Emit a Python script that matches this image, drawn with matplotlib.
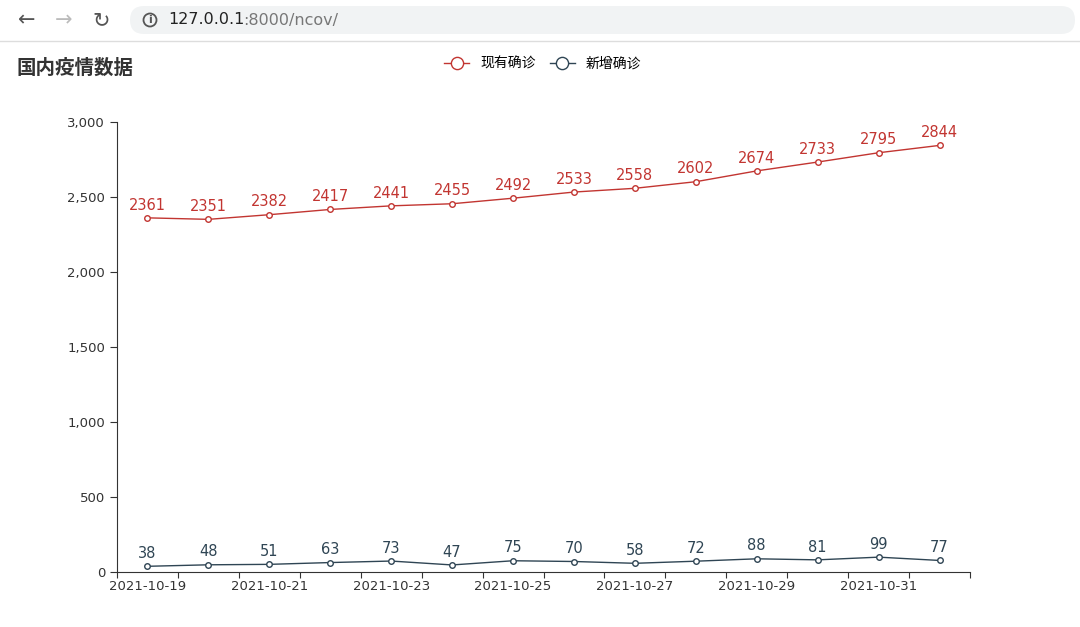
import matplotlib
matplotlib.use("Agg")
import matplotlib.pyplot as plt
from matplotlib.patches import FancyBboxPatch, Circle

dates = ["2021-10-19","2021-10-20","2021-10-21","2021-10-22","2021-10-23","2021-10-24","2021-10-25",
         "2021-10-26","2021-10-27","2021-10-28","2021-10-29","2021-10-30","2021-10-31","2021-11-01"]
existing = [2361,2351,2382,2417,2441,2455,2492,2533,2558,2602,2674,2733,2795,2844]
new = [38,48,51,63,73,47,75,70,58,72,88,81,99,77]
yticks = [0,500,1000,1500,2000,2500,3000]

plt.rcParams["font.family"] = "sans-serif"
plt.rcParams["font.sans-serif"] = ["Noto Sans CJK SC", "Noto Sans CJK JP", "Noto Sans CJK TC", "DejaVu Sans"]
W, H = 1080, 627
fig = plt.figure(figsize=(W/100, H/100), dpi=100)

# browser bar
bar = fig.add_axes([0, 1-40/H, 1, 40/H]); bar.axis("off"); bar.set_xlim(0, W); bar.set_ylim(0, 40)
bar.add_patch(FancyBboxPatch((130, 6), 945, 28, boxstyle="round,pad=0,rounding_size=14", fc="#f1f3f4", ec="none"))
bar.text(18, 20, "←", fontsize=15, va="center", color="#555", family="DejaVu Sans")
bar.text(55, 20, "→", fontsize=15, va="center", color="#bbb", family="DejaVu Sans")
bar.text(92, 20, "↻", fontsize=15, va="center", color="#555", family="DejaVu Sans")
bar.add_patch(Circle((150, 20), 6.5, fc="none", ec="#555", lw=1.3))
bar.text(150, 20, "i", fontsize=8, ha="center", va="center", color="#555", family="DejaVu Sans", fontweight="bold")
bar.text(168, 20, "127.0.0.1", fontsize=11.5, va="center", color="#222", family="DejaVu Sans")
bar.text(243, 20, ":8000/ncov/", fontsize=11.5, va="center", color="#777", family="DejaVu Sans")
fig.add_artist(plt.Line2D([0, 1], [1-41/H]*2, color="#ddd", lw=1))

x0, x1, ytop, ybot = 117, 970, 122, 572
ax = fig.add_axes([x0/W, 1-ybot/H, (x1-x0)/W, (ybot-ytop)/H])
n = len(dates)
xs = [i + 0.5 for i in range(n)]
ax.set_xlim(0, n); ax.set_ylim(0, 3000)
red, navy = "#c23531", "#2f4554"
ax.plot(xs, existing, color=red, lw=1, marker="o", ms=4, mfc="white", mec=red, label="现有确诊")
ax.plot(xs, new, color=navy, lw=1, marker="o", ms=4, mfc="white", mec=navy, label="新增确诊")
for x, v in zip(xs, existing):
    ax.annotate(str(v), (x, v), xytext=(0, 6), textcoords="offset points", ha="center", fontsize=10.5, color=red, family="DejaVu Sans")
for x, v in zip(xs, new):
    ax.annotate(str(v), (x, v), xytext=(0, 6), textcoords="offset points", ha="center", fontsize=10.5, color=navy, family="DejaVu Sans")
ax.set_yticks(yticks)
ax.set_yticklabels([f"{v:,}" for v in yticks], fontsize=9.5, color="#333", family="DejaVu Sans")
ax.set_xticks(list(range(n+1)))
ax.set_xticklabels([""]*(n+1))
for i in range(0, n, 2):
    ax.annotate(dates[i], (xs[i], 0), xytext=(0, -6), textcoords="offset points", family="DejaVu Sans",
                ha="center", va="top", fontsize=9.5, color="#333", annotation_clip=False)
for s in ["top", "right"]:
    ax.spines[s].set_visible(False)
ax.spines["left"].set_color("#333"); ax.spines["bottom"].set_color("#333")
ax.tick_params(axis="x", length=4, color="#333")
ax.tick_params(axis="y", length=5, color="#333")
fig.text(16/W, 1-68/H, "国内疫情数据", fontsize=14, fontweight="bold", color="#333", va="center")
fig.legend(loc="center", bbox_to_anchor=(543/W, 1-64/H), ncol=2, frameon=False, fontsize=10,
           handlelength=1.8, columnspacing=1, markerscale=2.2)
fig.savefig("out.png", dpi=100)
